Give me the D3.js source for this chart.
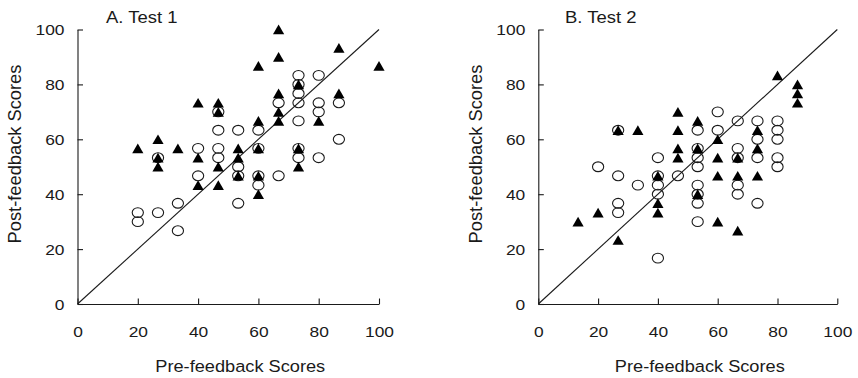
<!DOCTYPE html>
<html>
<head>
<meta charset="utf-8">
<script src="https://cdn.jsdelivr.net/npm/d3@7"></script>
<style>
  html, body { margin: 0; padding: 0; background: #fff; }
  svg { display: block; font-family: "Liberation Sans", Arial, sans-serif; }
</style>
</head>
<body>
<svg id="chart" width="858" height="378"></svg>
<script>
// axis ticks
const tickValues = [0, 20, 40, 60, 80, 100];

// Test 1: filled triangles
const t1TriPre  = [20, 26.7, 26.7, 26.7, 33.3, 40, 40, 40, 46.7, 46.7, 46.7, 46.7, 53.3, 53.3, 53.3,
                   60, 60, 60, 60, 60, 66.7, 66.7, 66.7, 66.7, 66.7, 73.3, 73.3, 73.3, 80, 86.7, 86.7, 100];
const t1TriPost = [56.7, 60, 53.3, 50, 56.7, 73.3, 53.3, 43.3, 73.3, 70, 50, 43.3, 56.7, 53.3, 46.7,
                   86.7, 66.7, 56.7, 46.7, 40, 100, 90, 76.7, 70, 66.7, 80, 56.7, 50, 66.7, 93.3, 76.7, 86.7];
// Test 1: open circles
const t1CirPre  = [20, 20, 26.7, 26.7, 33.3, 33.3, 40, 40, 46.7, 46.7, 46.7, 46.7, 53.3, 53.3, 53.3, 53.3,
                   60, 60, 60, 60, 66.7, 66.7, 73.3, 73.3, 73.3, 73.3, 73.3, 73.3, 73.3,
                   80, 80, 80, 80, 86.7, 86.7];
const t1CirPost = [33.3, 30, 33.3, 53.3, 36.7, 26.7, 56.7, 46.7, 70, 63.3, 56.7, 53.3, 63.3, 50, 46.7, 36.7,
                   63.3, 56.7, 46.7, 43.3, 73.3, 46.7, 83.3, 80, 76.7, 73.3, 66.7, 56.7, 53.3,
                   83.3, 73.3, 70, 53.3, 73.3, 60];

// Test 2: filled triangles
const t2TriPre  = [13.3, 20, 26.7, 26.7, 33.3, 40, 40, 40, 46.7, 46.7, 46.7, 46.7, 53.3, 53.3, 53.3,
                   60, 60, 60, 60, 66.7, 66.7, 66.7, 73.3, 73.3, 73.3, 80, 86.7, 86.7, 86.7];
const t2TriPost = [30, 33.3, 63.3, 23.3, 63.3, 46.7, 36.7, 33.3, 70, 63.3, 56.7, 53.3, 66.7, 56.7, 40,
                   60, 53.3, 46.7, 30, 53.3, 46.7, 26.7, 63.3, 56.7, 46.7, 83.3, 80, 76.7, 73.3];
// Test 2: open circles
const t2CirPre  = [20, 26.7, 26.7, 26.7, 26.7, 33.3, 40, 40, 40, 40, 40, 46.7,
                   53.3, 53.3, 53.3, 53.3, 53.3, 53.3, 53.3, 53.3, 60, 60,
                   66.7, 66.7, 66.7, 66.7, 66.7, 73.3, 73.3, 73.3, 73.3, 80, 80, 80, 80, 80];
const t2CirPost = [50, 63.3, 46.7, 36.7, 33.3, 43.3, 53.3, 46.7, 43.3, 40, 16.7, 46.7,
                   63.3, 56.7, 53.3, 50, 43.3, 40, 36.7, 30, 70, 63.3,
                   66.7, 56.7, 53.3, 43.3, 40, 66.7, 60, 53.3, 36.7, 66.7, 63.3, 60, 53.3, 50];

const svg = d3.select("#chart");
const ink = "#1a1a1a";
const squish = "scale(1,0.86)";  // text in the source is a little flattened

function drawPanel(p) {
  const x = d3.scaleLinear().domain([0, 100]).range([p.left, p.right]);
  const y = d3.scaleLinear().domain([0, 100]).range([304, 29.5]);
  const g = svg.append("g");

  // x axis, ticks pointing in
  const xa = g.append("g")
    .attr("transform", `translate(0,${y(0)})`)
    .call(d3.axisBottom(x).tickValues(tickValues).tickSizeInner(-5.5).tickSizeOuter(0));
  xa.selectAll("text")
    .attr("y", null).attr("dy", null)
    .attr("transform", `translate(0,33) ${squish}`);

  // y axis
  const ya = g.append("g")
    .attr("transform", `translate(${x(0)},0)`)
    .call(d3.axisLeft(y).tickValues(tickValues).tickSizeInner(-5.5).tickSizeOuter(0));
  ya.selectAll("text")
    .attr("x", null).attr("dy", null)
    .attr("transform", `translate(-13,5.3) ${squish}`);

  g.selectAll(".domain, .tick line").attr("stroke", ink).attr("stroke-width", 1.1);
  g.selectAll(".tick text")
    .attr("fill", ink)
    .style("font-size", "17.4px")
    .style("font-family", "'Liberation Sans', Arial, sans-serif");

  // identity line
  g.append("line")
    .attr("x1", x(0)).attr("y1", y(0))
    .attr("x2", x(100)).attr("y2", y(100))
    .attr("stroke", ink).attr("stroke-width", 1.1);

  // open circles first so triangles sit on top
  g.selectAll(".cir")
    .data(d3.zip(p.cirPre, p.cirPost))
    .join("ellipse")
    .attr("cx", d => x(d[0])).attr("cy", d => y(d[1]))
    .attr("rx", 5.6).attr("ry", 4.9)
    .attr("fill", "none").attr("stroke", ink).attr("stroke-width", 1.1);

  g.selectAll(".tri")
    .data(d3.zip(p.triPre, p.triPost))
    .join("path")
    .attr("d", "M-5.6,4.8L5.6,4.8L0,-4.9Z")
    .attr("transform", d => `translate(${x(d[0])},${y(d[1])})`)
    .attr("fill", "#000");

  // titles
  g.append("text")
    .attr("transform", `translate(${p.titleX},22.5) ${squish}`)
    .attr("fill", ink).style("font-size", "18.5px")
    .text(p.title);

  g.append("text")
    .attr("transform", `translate(${(x(0) + x(100)) / 2 + 12},371.5) ${squish}`)
    .attr("text-anchor", "middle")
    .attr("fill", ink).style("font-size", "18.2px")
    .text("Pre-feedback Scores");

  g.append("text")
    .attr("transform", `translate(${p.yLabelX},154) rotate(-90)`)
    .attr("text-anchor", "middle")
    .attr("fill", ink).style("font-size", "18.3px")
    .text("Post-feedback Scores");
}

drawPanel({
  left: 77.5, right: 379, title: "A. Test 1", titleX: 106, yLabelX: 20.7,
  triPre: t1TriPre, triPost: t1TriPost, cirPre: t1CirPre, cirPost: t1CirPost
});
drawPanel({
  left: 538.3, right: 837.3, title: "B. Test 2", titleX: 565, yLabelX: 481.7,
  triPre: t2TriPre, triPost: t2TriPost, cirPre: t2CirPre, cirPost: t2CirPost
});
</script>
</body>
</html>
